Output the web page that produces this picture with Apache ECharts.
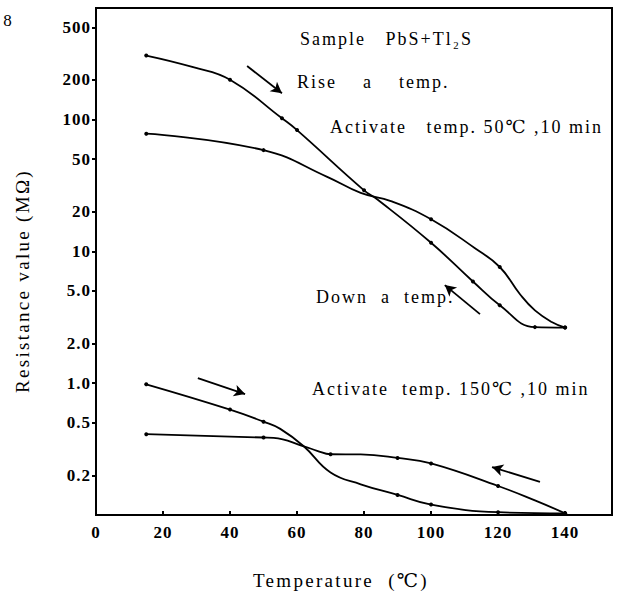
<!DOCTYPE html>
<html>
<head>
<meta charset="utf-8">
<script src="https://cdn.jsdelivr.net/npm/echarts@6/dist/echarts.min.js"></script>
<style>
html,body{margin:0;padding:0;background:#fff}
#c{width:620px;height:598px}
#c text{font-family:"Liberation Serif","DejaVu Serif",serif !important;letter-spacing:1px}
#c text[style*="18px"]{letter-spacing:2px}
#c text[style*="19px"]{letter-spacing:2.3px}
</style>
</head>
<body>
<div id="c"></div>
<script>
// ---- Data (temperature in °C, resistance in MΩ) ----
// Activate temp. 50°C, 10 min
var upperRiseT   = [15, 29, 40, 55.5, 60, 80, 84, 100, 112.5, 120.5, 131, 140];
var upperRiseR   = [305, 249, 200, 102, 83, 29, 24.7, 11.6, 5.9, 3.9, 2.66, 2.64];
var upperRiseDot = [1, 0, 1, 1, 1, 1, 0, 1, 1, 1, 1, 1];

var upperDownT   = [15, 50, 69, 79, 88, 100, 113, 120.5, 126.6, 131, 136, 140];
var upperDownR   = [78, 58.5, 36.7, 27.7, 24, 17.5, 10.6, 7.6, 4.7, 3.56, 2.91, 2.64];
var upperDownDot = [1, 1, 0, 0, 0, 1, 0, 1, 0, 0, 0, 1];

// Activate temp. 150°C, 10 min
var lowerRiseT   = [15, 40, 50, 55, 62, 70, 79, 90, 100, 120, 140];
var lowerRiseR   = [0.98, 0.63, 0.51, 0.45, 0.332, 0.21, 0.171, 0.142, 0.12, 0.105, 0.103];
var lowerRiseDot = [1, 1, 1, 0, 0, 0, 0, 1, 1, 1, 1];

var lowerDownT   = [15, 50, 53, 62, 66, 70, 79, 90, 100, 120, 131, 140];
var lowerDownR   = [0.41, 0.387, 0.385, 0.332, 0.307, 0.289, 0.288, 0.271, 0.246, 0.166, 0.129, 0.103];
var lowerDownDot = [1, 1, 0, 0, 0, 1, 0, 1, 1, 1, 0, 1];

// Direction arrows: [tailT, tailR, headT, headR]
var arrows = [
  [45.1, 254, 55.5, 158],
  [114.6, 3.34, 104.1, 5.54],
  [30.4, 1.09, 44.5, 0.826],
  [132.5, 0.178, 118.2, 0.231]
];

// Axis ticks
var xTickLabels = [0, 20, 40, 60, 80, 100, 120, 140];
var xTickMarks  = [20, 40, 60, 80, 100, 120, 140];
var yTickValues = [0.2, 0.5, 1, 2, 5, 10, 20, 50, 100, 200, 500];

// ---- Chart ----
var FONT = 'Liberation Serif';
function build(t, r, d) {
  return t.map(function (x, i) {
    return { value: [x, r[i]], symbolSize: d[i] ? 4 : 0 };
  });
}
function lineSeries(name, t, r, d, extra) {
  var s = {
    name: name, type: 'line', data: build(t, r, d),
    smooth: 0.45,
    symbol: 'circle', showSymbol: true,
    lineStyle: { color: '#000', width: 1.8 },
    itemStyle: { color: '#000' },
    silent: true, z: 3
  };
  if (extra) Object.assign(s, extra);
  return s;
}

var chart = echarts.init(document.getElementById('c'), null, { renderer: 'svg' });
var option = {
  animation: false,
  backgroundColor: '#fff',
  grid: {
    left: 96, right: 8, top: 8, bottom: 83,
    containLabel: false, outerBoundsMode: 'none',
    show: true, borderColor: '#000', borderWidth: 2, backgroundColor: 'transparent'
  },
  xAxis: {
    type: 'value', min: 0, max: 154,
    axisLine: { show: true, lineStyle: { color: '#000', width: 2 } },
    axisTick: { show: true, inside: true, length: 4, lineStyle: { color: '#000', width: 2 }, customValues: xTickMarks },
    axisLabel: { customValues: xTickLabels, color: '#000', fontFamily: FONT, fontWeight: 'bold', fontSize: 17, margin: 9 },
    splitLine: { show: false }
  },
  yAxis: {
    type: 'log', logBase: 10, min: 0.1, max: 700,
    axisLine: { show: true, lineStyle: { color: '#000', width: 2 } },
    axisTick: { show: true, inside: false, length: 4, lineStyle: { color: '#000', width: 2 }, customValues: yTickValues },
    axisLabel: {
      customValues: yTickValues, color: '#000', fontFamily: FONT, fontWeight: 'bold', fontSize: 17, margin: 5,
      formatter: function (v) { return v >= 10 ? Math.round(v).toString() : Number(v).toFixed(1); }
    },
    splitLine: { show: false },
    minorTick: { show: false }
  },
  series: [
    lineSeries('upperRise', upperRiseT, upperRiseR, upperRiseDot, {
      markLine: {
        silent: true, symbol: ['none', 'arrow'], symbolSize: [9, 11],
        lineStyle: { color: '#000', width: 1.8, type: 'solid' },
        label: { show: false },
        data: arrows.map(function (a) { return [{ coord: [a[0], a[1]] }, { coord: [a[2], a[3]] }]; })
      }
    }),
    lineSeries('upperDown', upperDownT, upperDownR, upperDownDot),
    lineSeries('lowerRise', lowerRiseT, lowerRiseR, lowerRiseDot),
    lineSeries('lowerDown', lowerDownT, lowerDownR, lowerDownDot)
  ],
  graphic: [
    { type: 'text', left: 300, top: 30, style: { text: 'Sample   PbS+Tl\u2082S', fontFamily: FONT, fontSize: 18, fill: '#000' } },
    { type: 'text', left: 297, top: 73, style: { text: 'Rise    a    temp.', fontFamily: FONT, fontSize: 18, fill: '#000' } },
    { type: 'text', left: 330, top: 118, style: { text: 'Activate   temp. 50\u2103 ,10 min', fontFamily: FONT, fontSize: 18, fill: '#000' } },
    { type: 'text', left: 316, top: 288, style: { text: 'Down  a  temp.', fontFamily: FONT, fontSize: 18, fill: '#000' } },
    { type: 'text', left: 312, top: 380, style: { text: 'Activate  temp. 150\u2103 ,10 min', fontFamily: FONT, fontSize: 18, fill: '#000' } },
    { type: 'text', x: 22, y: 281, rotation: Math.PI / 2,
      style: { text: 'Resistance value (M\u03A9)', fontFamily: FONT, fontSize: 19, fill: '#000', align: 'center', verticalAlign: 'middle' } },
    { type: 'text', x: 341, y: 580,
      style: { text: 'Temperature  (\u2103)', fontFamily: FONT, fontSize: 19, fill: '#000', align: 'center', verticalAlign: 'middle' } },
    { type: 'text', x: 8, y: 20,
      style: { text: '8', fontFamily: FONT, fontSize: 17, fill: '#000', align: 'center', verticalAlign: 'middle' } }
  ]
};
chart.setOption(option);
</script>
</body>
</html>
